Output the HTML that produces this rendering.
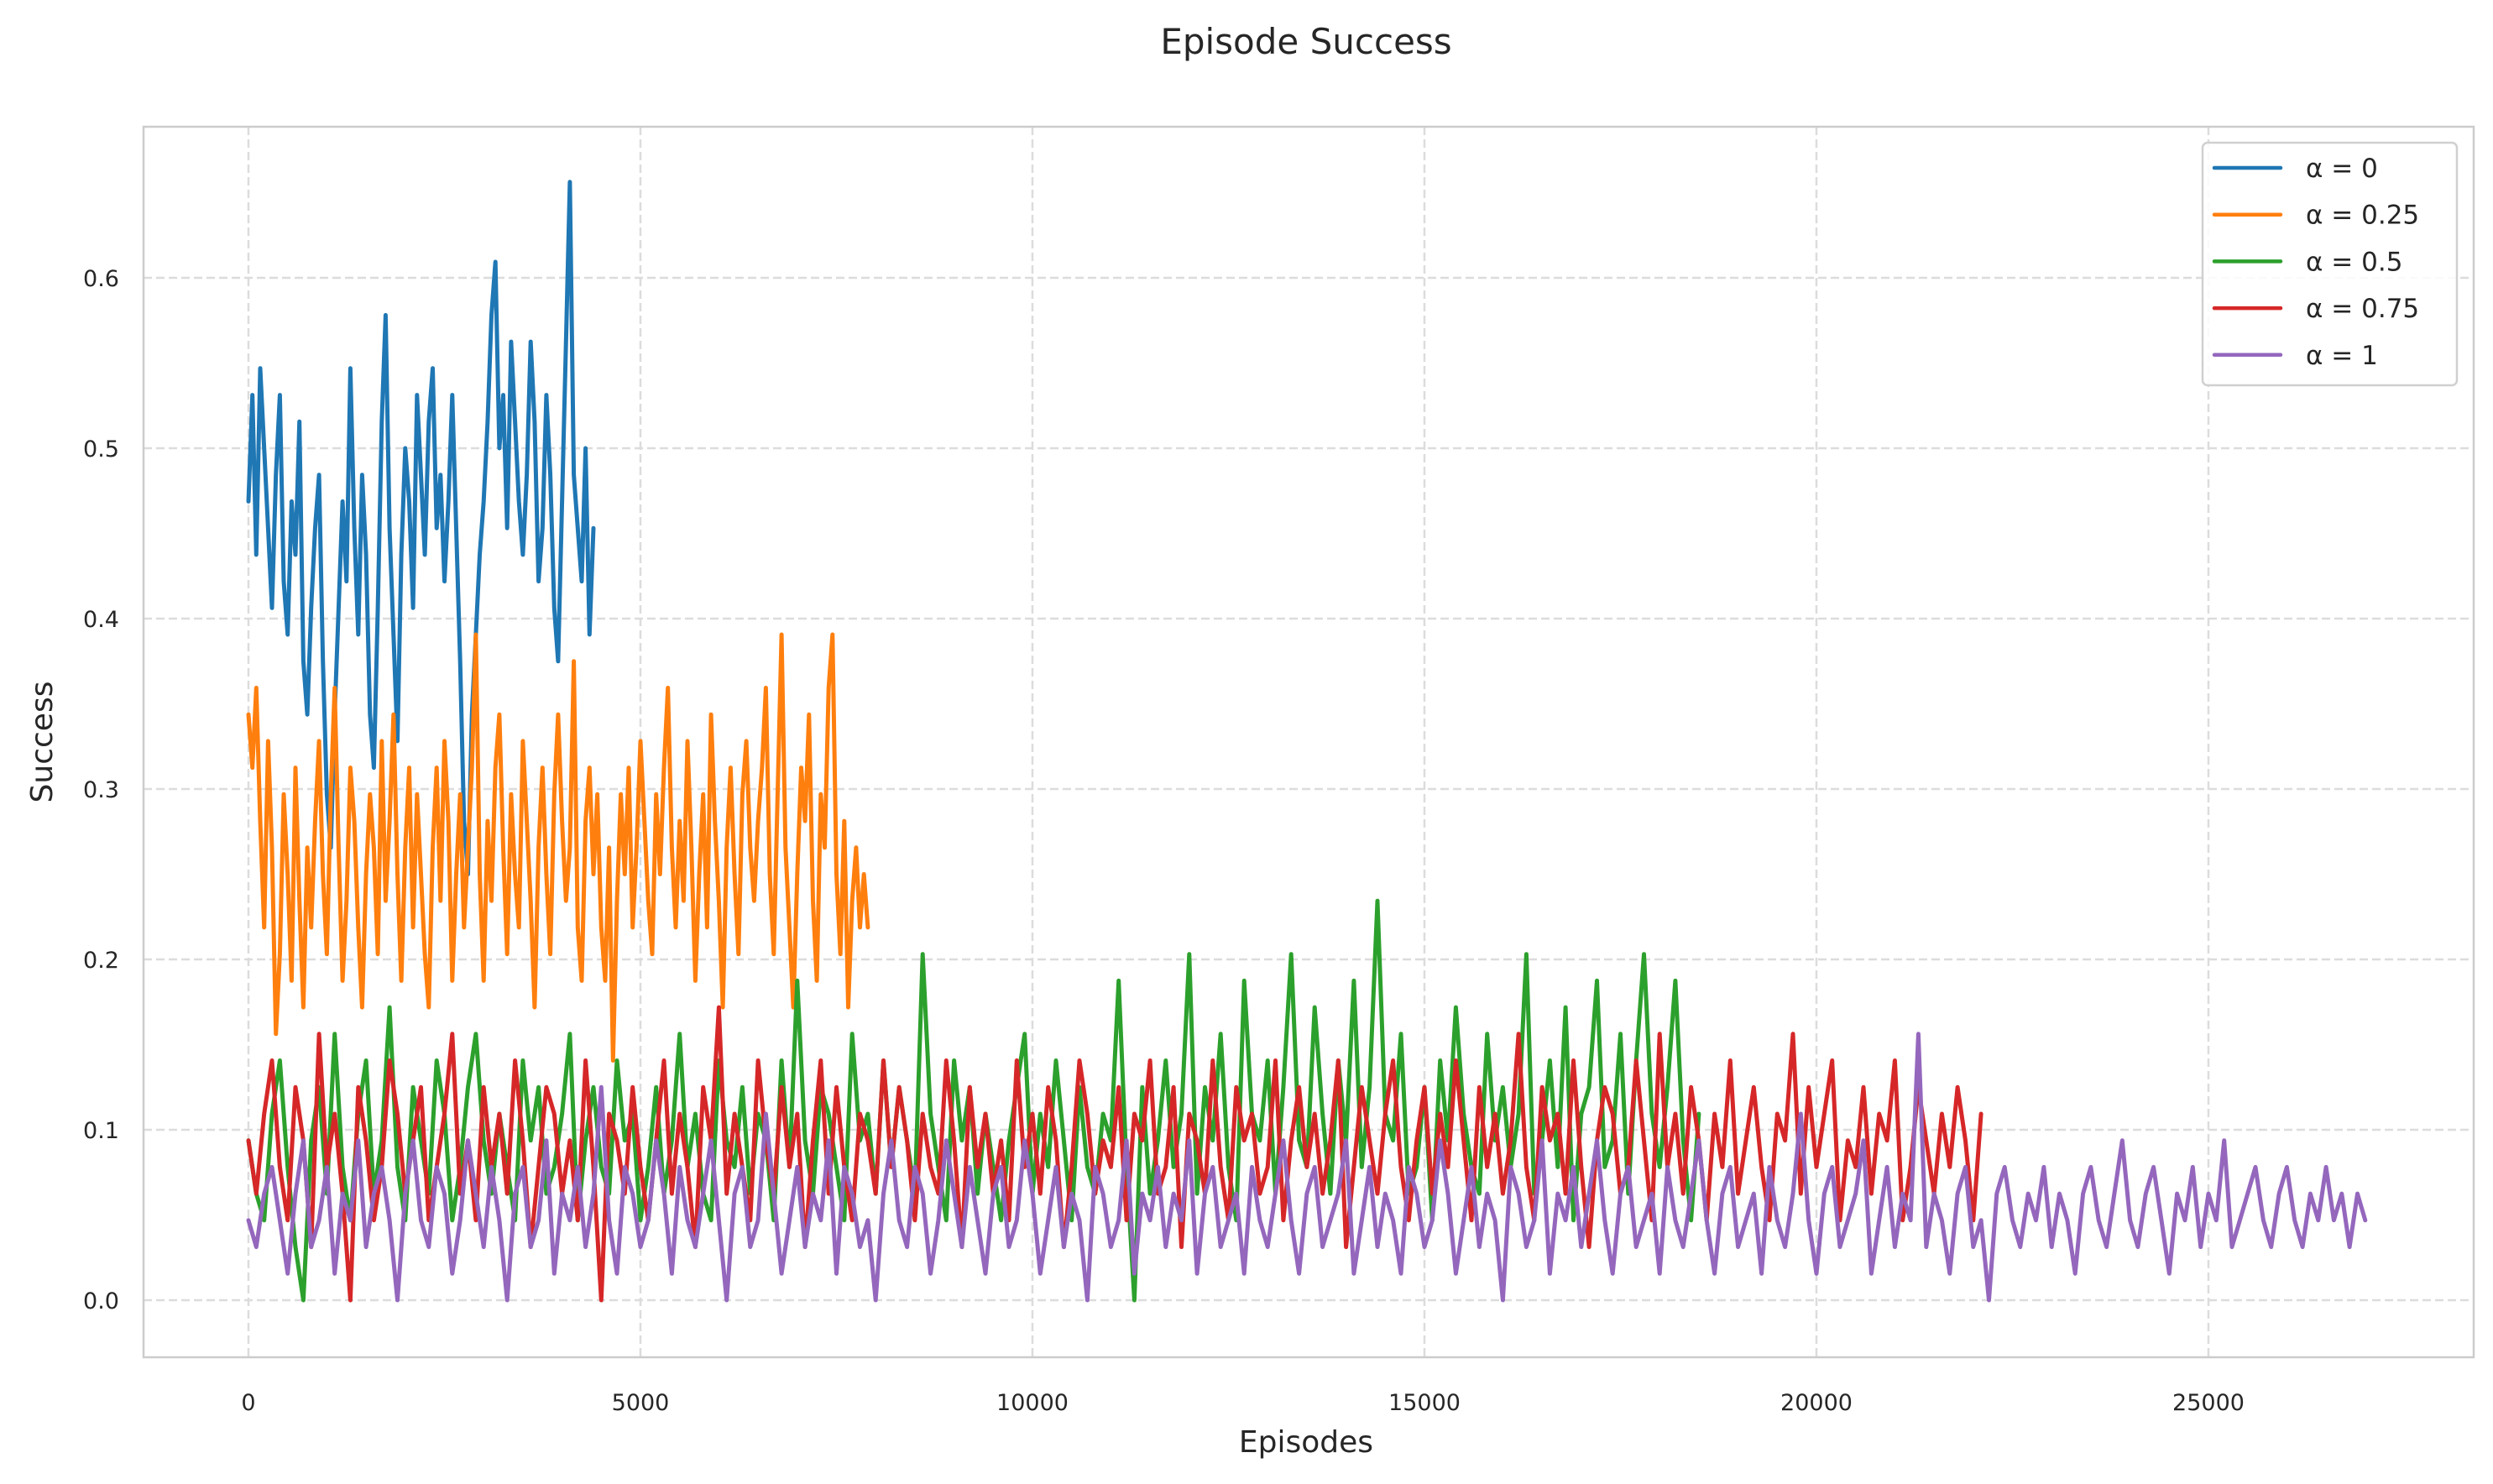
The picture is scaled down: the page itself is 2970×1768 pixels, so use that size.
<!DOCTYPE html>
<html><head><meta charset="utf-8"><style>
html,body{margin:0;padding:0;background:#fff;}
svg{display:block;font-family:"DejaVu Sans","Liberation Sans",sans-serif;}
</style></head><body>
<svg id="chart" width="2970" height="1768" viewBox="0 0 2970 1768">
<text x="1556" y="64" text-anchor="middle" font-size="42" fill="#262626">Episode Success</text>
<g id="grid"></g>
<g id="lines"></g>
<rect x="171" y="151" width="2776" height="1466" fill="none" stroke="#cccccc" stroke-width="2.5"/>
<g id="xticks"></g><g id="yticks"></g>
<text x="1556" y="1730" text-anchor="middle" font-size="36" fill="#262626">Episodes</text>
<text x="0" y="0" transform="translate(62,884) rotate(-90)" text-anchor="middle" font-size="36" fill="#262626">Success</text>
<g id="legend"></g>
</svg>
<script>
const WINDOW = 64;
const seriesLabels = ["α = 0","α = 0.25","α = 0.5","α = 0.75","α = 1"];
const seriesColors = ["#1f77b4","#ff7f0e","#2ca02c","#d62728","#9467bd"];
const seriesSteps = [50,50,100,100,100];
const xTicks = [0,5000,10000,15000,20000,25000];
const yTicks = [0,0.1,0.2,0.3,0.4,0.5,0.6];
const yTickLabels = ["0.0","0.1","0.2","0.3","0.4","0.5","0.6"];
const alpha0 = [30,34,28,35,32,29,26,31,34,27,25,30,28,33,24,22,26,29,31,24,19,17,22,26,30,27,35,29,25,31,28,22,20,26,33,37,29,25,21,28,32,30,26,34,31,28,33,35,29,31,27,30,34,29,24,18,16,22,25,28,30,33,37,39,32,34,29,36,33,30,28,31,36,33,27,29,34,31,26,24,30,36,42,31,29,27,32,25,29];
const alpha025 = [22,20,23,18,14,21,17,10,13,19,16,12,20,15,11,17,14,18,21,16,13,19,23,17,12,15,20,18,14,11,16,19,17,13,21,15,18,22,16,12,17,20,14,19,16,13,11,17,20,15,21,18,12,16,19,14,17,20,25,16,12,18,15,20,22,17,13,19,16,14,21,18,15,11,17,20,16,13,19,22,18,15,17,24,14,12,18,20,16,19,14,12,17,9,15,19,16,20,14,17,21,18,15,13,19,16,20,23,17,14,18,15,21,17,12,16,19,14,22,18,15,11,17,20,16,13,19,21,17,15,18,20,23,16,13,19,25,17,14,11,16,20,18,22,15,12,19,17,23,25,16,13,18,11,15,17,14,16,14];
const alpha05 = [6,4,3,7,9,5,2,0,6,8,4,10,5,3,7,9,4,6,11,5,3,8,6,4,9,7,3,5,8,10,6,4,7,5,3,9,6,8,4,5,7,10,3,6,8,5,4,9,6,7,3,5,8,4,6,10,5,7,4,3,9,6,5,8,4,7,6,3,9,5,12,6,4,8,7,5,3,10,6,7,4,9,5,8,6,4,13,7,5,3,9,6,8,4,7,5,3,6,8,10,4,7,5,9,6,3,8,5,4,7,6,12,5,0,8,4,6,9,5,7,13,4,8,6,10,5,3,12,7,6,9,4,8,13,6,5,11,7,4,9,6,12,5,8,15,7,6,10,4,5,8,3,9,6,11,7,5,4,10,6,8,5,7,13,4,6,9,5,11,3,7,8,12,5,6,10,4,9,13,7,5,8,12,6,3,7];
const alpha075 = [6,4,7,9,5,3,8,6,2,10,5,7,4,0,8,6,3,5,9,7,4,6,8,3,5,7,10,4,6,3,8,5,7,4,9,6,2,5,8,7,4,6,3,9,5,0,7,6,4,8,5,3,6,9,4,7,5,2,8,6,11,4,7,5,3,9,6,4,8,5,7,2,6,9,4,8,5,3,7,6,4,9,5,8,6,3,7,5,4,9,6,2,8,5,7,4,6,3,9,5,7,4,8,6,2,5,9,7,4,6,5,8,3,7,6,9,4,5,8,2,7,6,4,9,5,3,8,6,7,4,5,9,3,6,8,5,7,4,6,9,2,5,8,6,4,7,9,5,3,6,8,4,7,5,9,6,3,8,5,7,4,6,10,5,3,8,6,7,4,9,5,2,6,8,7,4,5,9,6,3,10,5,7,4,8,6,3,7,5,9,4,6,8,5,3,7,6,10,4,8,5,7,9,3,6,5,8,4,7,6,9,3,5,8,6,4,7,5,8,6,3,7];
const alpha1 = [3,2,4,5,3,1,4,6,2,3,5,1,4,3,6,2,4,5,3,0,4,6,3,2,5,4,1,3,6,4,2,5,3,0,4,5,2,3,6,1,4,3,5,2,4,8,3,1,5,4,2,3,6,4,1,5,3,2,4,6,3,0,4,5,2,3,7,4,1,3,5,2,4,3,6,1,5,4,2,3,0,4,6,3,2,5,4,1,3,6,4,2,5,3,1,4,5,2,3,6,4,1,3,5,2,4,3,0,5,4,2,3,6,1,4,3,5,2,4,3,6,1,4,5,2,3,4,1,5,3,2,4,6,3,1,4,5,2,3,4,6,1,3,5,2,4,3,1,5,4,2,3,6,4,1,3,5,2,4,3,0,5,4,2,3,6,1,4,3,5,2,4,6,3,1,4,5,2,3,4,1,5,3,2,4,6,3,1,4,5,2,3,4,1,5,3,2,4,7,3,1,4,5,2,3,4,6,1,3,5,2,4,3,10,2,4,3,1,4,5,2,3,0,4,5,3,2,4,3,5,2,4,3,1,4,5,3,2,4,6,3,2,4,5,3,1,4,3,5,2,4,3,6,2,3,4,5,3,2,4,5,3,2,4,3,5,3,4,2,4,3];
const seriesData = [alpha0, alpha025, alpha05, alpha075, alpha1];

const L=171,R=2947,T=151,B=1617;
const X0=296, XPER=(2631-296)/25000;
const Y0=1549, YPER=(1549-331)/0.6;
const xs = v => X0 + v*XPER;
const ys = v => Y0 - v*YPER;
const NS="http://www.w3.org/2000/svg";
function mk(tag, attrs, parent){const e=document.createElementNS(NS,tag);for(const k in attrs)e.setAttribute(k,attrs[k]);parent.appendChild(e);return e;}
const grid=document.getElementById('grid'), xt=document.getElementById('xticks'), yt=document.getElementById('yticks');
xTicks.forEach((t,i)=>{
  const l=mk('line',{x1:xs(t),x2:xs(t),y1:T,y2:B,stroke:'#dcdcdc','stroke-width':2.5,'stroke-dasharray':'10,5'},grid);
  
  
  const tx=mk('text',{x:xs(t),y:1680,'text-anchor':'middle','font-size':27,fill:'#262626'},xt);
  tx.textContent=String(t);
  
  
});
yTicks.forEach((t,i)=>{
  const l=mk('line',{x1:L,x2:R,y1:ys(t),y2:ys(t),stroke:'#dcdcdc','stroke-width':2.5,'stroke-dasharray':'10,5'},grid);
  
  
  const tx=mk('text',{x:142,y:ys(t)+10,'text-anchor':'end','font-size':27,fill:'#262626'},yt);
  tx.textContent=yTickLabels[i];
  
  
});
const lines=document.getElementById('lines');
seriesData.forEach((arr,si)=>{
  const pts=arr.map((c,i)=>xs(i*seriesSteps[si]).toFixed(1)+','+ys(c/WINDOW).toFixed(1)).join(' ');
  const p=mk('polyline',{points:pts,fill:'none',stroke:seriesColors[si],'stroke-width':5,'stroke-linejoin':'round','stroke-linecap':'round'},lines);
  
  
});
const lg=document.getElementById('legend');
const box=mk('rect',{x:2624,y:170,width:303,height:289,rx:6,fill:'#fff','fill-opacity':0.85,stroke:'#d0d0d0','stroke-width':2.5},lg);


seriesLabels.forEach((s,i)=>{
  const y=200+i*55.7;
  const ln=mk('line',{x1:2638,x2:2717,y1:y,y2:y,stroke:seriesColors[i],'stroke-width':4.5,'stroke-linecap':'round'},lg);
  
  
  const tx=mk('text',{x:2747,y:y+11,'font-size':31,fill:'#262626'},lg);
  tx.textContent=s;
  
  
});
</script>
</body></html>
